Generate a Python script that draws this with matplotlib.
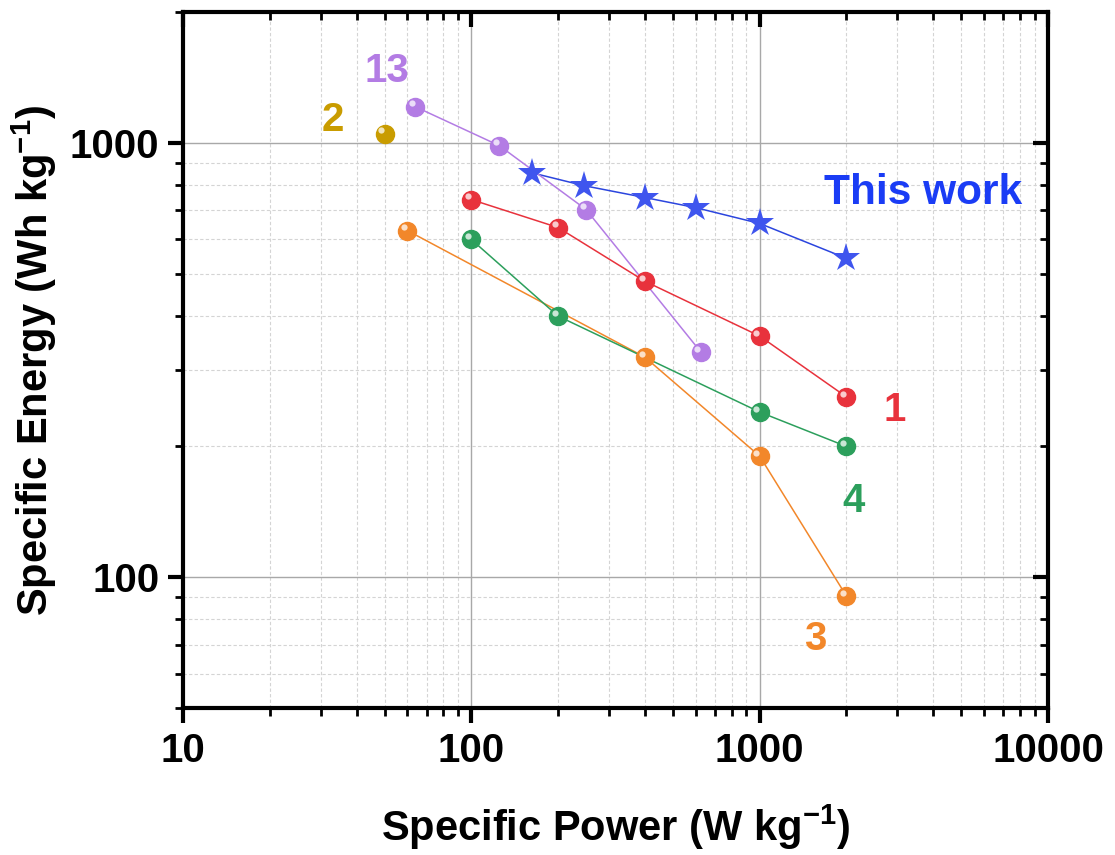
import matplotlib
matplotlib.use("Agg")
import matplotlib.pyplot as plt
from matplotlib.transforms import offset_copy

plt.rcParams['font.family'] = ['Liberation Sans', 'DejaVu Sans']
plt.rcParams['font.weight'] = 'bold'
plt.rcParams['axes.labelweight'] = 'bold'
plt.rcParams['mathtext.fontset'] = 'custom'
plt.rcParams['mathtext.rm'] = 'Liberation Sans:bold'
plt.rcParams['mathtext.bf'] = 'Liberation Sans:bold'
plt.rcParams['mathtext.default'] = 'bf'

# data
p_13 = [64, 125, 250, 625]
e_13 = [1210, 985, 702, 330]

p_2 = [50]
e_2 = [1050]

p_work = [162, 245, 400, 600, 1000, 2000]
e_work = [853, 797, 748, 709, 652, 542]

p_1 = [100, 200, 400, 1000, 2000]
e_1 = [740, 638, 480, 359, 260]

p_3 = [60, 400, 1000, 2000]
e_3 = [628, 321, 190, 90.5]

p_4 = [100, 200, 1000, 2000]
e_4 = [599, 399, 240, 200]

c_13 = '#b37ce4'
c_2 = '#c99c00'
c_work = '#3f55ee'
c_1 = '#e8323c'
c_3 = '#f2872a'
c_4 = '#2c9f5c'

fig = plt.figure(figsize=(11.15, 8.55), dpi=100)
ax = fig.add_axes([0.1641, 0.1719, 0.7758, 0.8141])


def balls(x, y, color, line=True):
    if line:
        ax.plot(x, y, '-', color=color, lw=1.1, zorder=3)
    ax.plot(x, y, 'o', color=color, ms=13, mec=color, zorder=4)
    hl = offset_copy(ax.transData, fig=fig, x=-2.4, y=2.4, units='points')
    ax.plot(x, y, 'o', color='white', ms=4.5, mew=0, alpha=0.75,
            transform=hl, zorder=5)


balls(p_3, e_3, c_3)
balls(p_4, e_4, c_4)
balls(p_1, e_1, c_1)
ax.plot(p_work, e_work, '-', color='#2b45de', lw=1.1, zorder=3)
ax.plot(p_work, e_work, '*', color=c_work, ms=21, mew=0, zorder=4)
balls(p_13, e_13, c_13)
balls(p_2, e_2, c_2, line=False)

ax.set_xscale('log')
ax.set_yscale('log')
ax.set_xlim(10, 10000)
ax.set_ylim(50, 2000)

ax.grid(True, which='major', color='#a8a8a8', lw=1.0, ls='-', zorder=0)
ax.grid(True, which='minor', color='#d4d4d4', lw=0.8, ls=(0, (3, 2)), zorder=0)
ax.set_axisbelow(True)

ax.set_xticks([10, 100, 1000, 10000])
ax.set_xticklabels(['10', '100', '1000', '10000'])
ax.set_yticks([100, 1000])
ax.set_yticklabels(['100', '1000'])

for s in ax.spines.values():
    s.set_linewidth(3)
ax.tick_params(which='major', length=11, width=3, labelsize=29, pad=6)
ax.tick_params(which='minor', length=6, width=2)
ax.tick_params(which='both', top=True, right=True)
ax.xaxis.set_tick_params(which='both', direction='out')
ax.yaxis.set_tick_params(which='both', direction='out')
# top and right ticks point inward
for t in ax.xaxis.get_major_ticks() + ax.xaxis.get_minor_ticks():
    t.tick2line.set_marker(3)
for t in ax.yaxis.get_major_ticks() + ax.yaxis.get_minor_ticks():
    t.tick2line.set_marker(0)

ax.set_xlabel('Specific Power (W kg$^{-1}$)', fontsize=30, labelpad=24)
ax.set_ylabel('Specific Energy (Wh kg$^{-1}$)', fontsize=30, labelpad=8)

ax.text(51, 1460, '13', color=c_13, fontsize=29, ha='center', va='center')
ax.text(33, 1130, '2', color=c_2, fontsize=29, ha='center', va='center')
ax.text(3690, 765, 'This work', color='#1a3cf5', fontsize=30.5, ha='center', va='center')
ax.text(2950, 242, '1', color=c_1, fontsize=29, ha='center', va='center')
ax.text(2120, 150, '4', color=c_4, fontsize=29, ha='center', va='center')
ax.text(1560, 72, '3', color=c_3, fontsize=29, ha='center', va='center')

fig.savefig('out.png', dpi=100)
